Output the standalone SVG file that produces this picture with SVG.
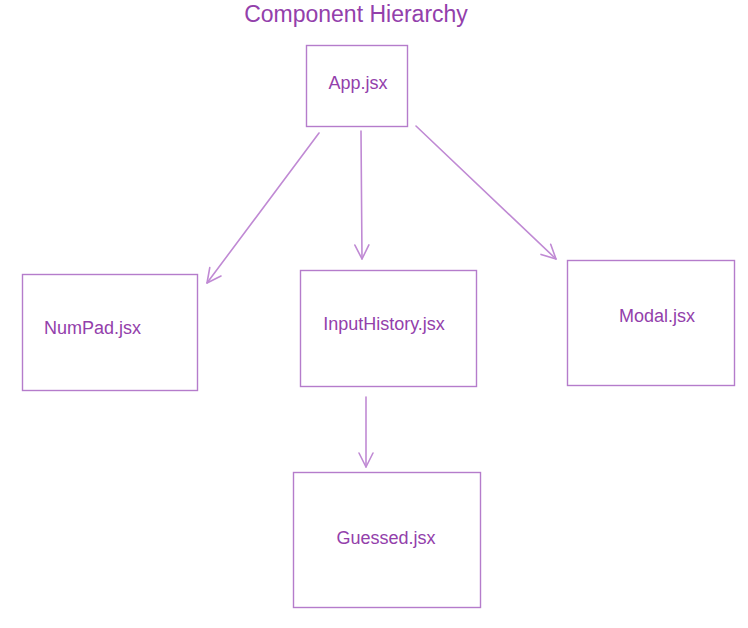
<svg xmlns="http://www.w3.org/2000/svg" width="748" height="628" viewBox="0 0 748 628">
<style>
.box{fill:none;stroke:#b57ccb;stroke-width:1.4}
.lbl{font-family:"Liberation Sans",Arial,sans-serif;font-size:18px;fill:#9340ab}
.title{font-family:"Liberation Sans",Arial,sans-serif;font-size:23px;fill:#9340ab}
.conn{fill:none;stroke:#c08ad4;stroke-width:1.6;stroke-linecap:round;stroke-linejoin:round}
</style>
<defs>
<marker id="arr" viewBox="0 0 20 20" refX="18" refY="10" markerWidth="20" markerHeight="20" markerUnits="userSpaceOnUse" orient="auto">
<path d="M4,3 L18,10 L4,17" fill="none" stroke="#c08ad4" stroke-width="1.6" stroke-linecap="round" stroke-linejoin="round"/>
</marker>
</defs>
<rect width="748" height="628" fill="#ffffff"/>
<text class="title" x="356" y="22" text-anchor="middle">Component Hierarchy</text>
<g id="connectors">
<line class="conn" x1="319" y1="133" x2="207" y2="283" marker-end="url(#arr)"/>
<line class="conn" x1="361" y1="131" x2="362" y2="259" marker-end="url(#arr)"/>
<line class="conn" x1="416" y1="126" x2="556" y2="259" marker-end="url(#arr)"/>
<line class="conn" x1="366" y1="397" x2="366" y2="467" marker-end="url(#arr)"/>
</g>
<g id="app">
<rect class="box" x="306.5" y="45.5" width="101" height="81"/>
<text class="lbl" x="358" y="89" text-anchor="middle">App.jsx</text>
</g>
<g id="numpad">
<rect class="box" x="22.5" y="274.5" width="175" height="116"/>
<text class="lbl" x="44" y="334">NumPad.jsx</text>
</g>
<g id="inputhistory">
<rect class="box" x="300.5" y="270.5" width="176" height="116"/>
<text class="lbl" x="384" y="330" text-anchor="middle">InputHistory.jsx</text>
</g>
<g id="modal">
<rect class="box" x="567.5" y="260.5" width="167" height="125"/>
<text class="lbl" x="657" y="322" text-anchor="middle">Modal.jsx</text>
</g>
<g id="guessed">
<rect class="box" x="293.5" y="472.5" width="187" height="135"/>
<text class="lbl" x="386" y="544" text-anchor="middle">Guessed.jsx</text>
</g>
</svg>
